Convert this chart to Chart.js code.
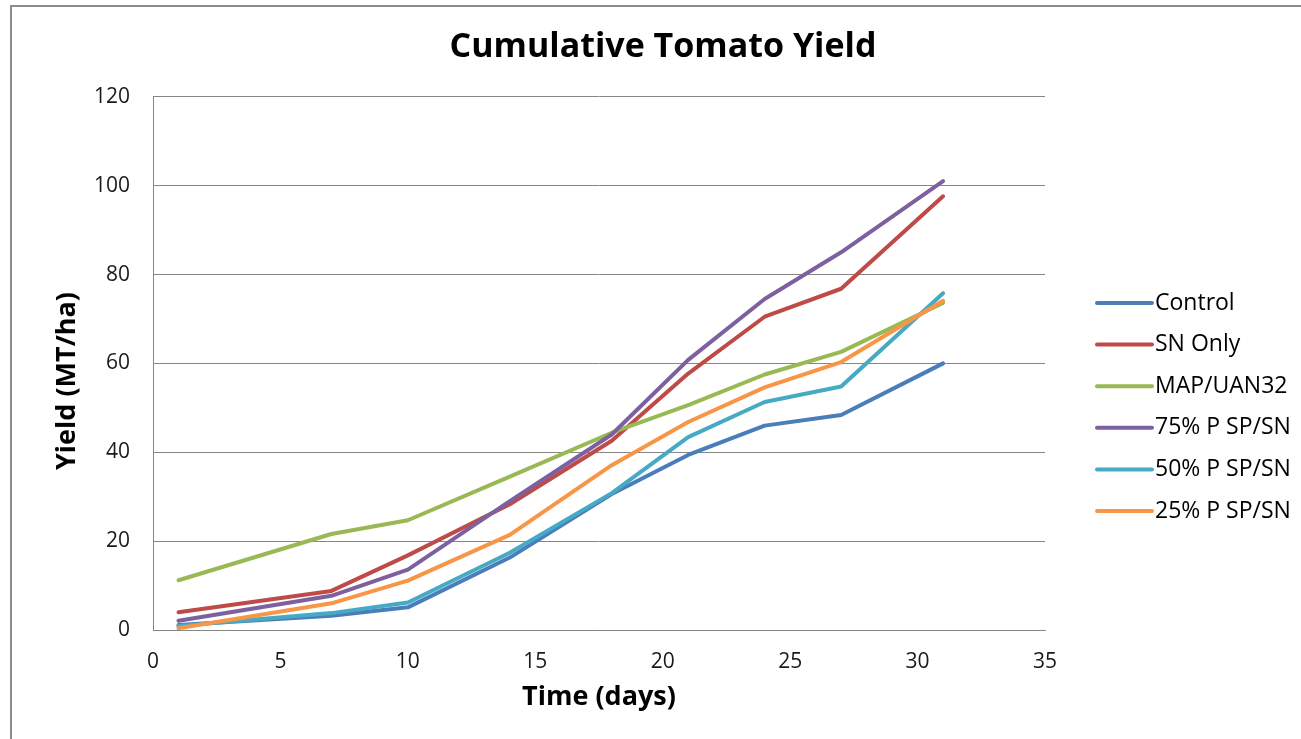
<!DOCTYPE html>
<html>
<head>
<meta charset="utf-8">
<title>Cumulative Tomato Yield</title>
<script src="https://cdn.jsdelivr.net/npm/chart.js@4/dist/chart.umd.min.js"></script>
<style>
  html, body { margin: 0; padding: 0; background: #ffffff; overflow: hidden; }
  #wrap { position: relative; width: 1301px; height: 739px; }
  #frame {
    position: absolute; left: 10px; top: 5px; width: 1400px; height: 800px;
    border-top: 2px solid #8c8c8c; border-left: 2px solid #8c8c8c;
    pointer-events: none;
  }
  canvas { position: absolute; left: 0; top: 0; }
</style>
</head>
<body>
<div id="wrap">
  <canvas id="chart" width="1301" height="739"></canvas>
  <div id="frame"></div>
</div>
<script>
// Harvest days
const days = [1, 7, 10, 14, 18, 21, 24, 27, 31];

// Cumulative yield (MT/ha) per treatment
const control   = [1.1, 3.2, 5.1, 16.3, 30.6, 39.4, 46.0, 48.4, 60.0];
const snOnly    = [4.0, 8.8, 16.8, 28.3, 42.6, 57.7, 70.5, 76.8, 97.6];
const mapUan32  = [11.2, 21.6, 24.7, 34.5, 44.4, 50.6, 57.5, 62.6, 73.6];
const p75SpSn   = [2.1, 7.7, 13.6, 29.0, 44.0, 60.8, 74.5, 85.0, 101.0];
const p50SpSn   = [0.9, 3.8, 6.2, 17.4, 30.8, 43.4, 51.3, 54.8, 75.8];
const p25SpSn   = [0.4, 6.0, 11.1, 21.4, 37.1, 46.8, 54.6, 60.3, 74.1];

const seriesNames = ['Control', 'SN Only', 'MAP/UAN32', '75% P SP/SN', '50% P SP/SN', '25% P SP/SN'];
const seriesValues = [control, snOnly, mapUan32, p75SpSn, p50SpSn, p25SpSn];
const seriesColors = ['#4A7EBB', '#BE4B48', '#98B954', '#7D60A0', '#46AAC5', '#F79646'];

const yAxisTitle = 'Yield (MT/ha)';

const FONT = "'Open Sans', 'Liberation Sans', sans-serif";

const datasets = seriesNames.map((name, i) => ({
  label: name,
  data: days.map((d, k) => ({ x: d, y: seriesValues[i][k] })),
  borderColor: seriesColors[i],
  backgroundColor: seriesColors[i],
  borderWidth: 4,
  borderJoinStyle: 'round',
  borderCapStyle: 'round',
  pointRadius: 0,
  tension: 0,
  fill: false,
  yAxisID: 'y',
  // first series sits underneath, last series on top
  order: seriesNames.length - i
}));

// Legend at the right of the plot (line sample + label) and the
// rotated value-axis title, both drawn onto the chart canvas
const sideDecor = {
  id: 'sideDecor',
  afterDraw(chart, args, opts) {
    const ctx = chart.ctx;
    ctx.save();
    ctx.font = opts.legendFont;
    ctx.textBaseline = 'middle';
    ctx.textAlign = 'left';
    chart.data.datasets.forEach((ds, i) => {
      const y = opts.legendTop + i * opts.legendStep;
      ctx.strokeStyle = ds.borderColor;
      ctx.lineWidth = 4;
      ctx.lineCap = 'round';
      ctx.beginPath();
      ctx.moveTo(opts.legendLeft, y);
      ctx.lineTo(opts.legendLeft + opts.lineLength, y);
      ctx.stroke();
      ctx.fillStyle = opts.color;
      ctx.fillText(ds.label, opts.legendLeft + opts.lineLength + 3, y);
    });

    ctx.translate(opts.yTitleX, opts.yTitleY);
    ctx.rotate(-Math.PI / 2);
    ctx.font = opts.yTitleFont;
    ctx.textAlign = 'center';
    ctx.fillStyle = opts.color;
    ctx.fillText(yAxisTitle, 0, 0);
    ctx.restore();
  }
};

new Chart(document.getElementById('chart'), {
  type: 'line',
  data: { datasets },
  plugins: [sideDecor],
  options: {
    responsive: false,
    animation: false,
    devicePixelRatio: 1,
    layout: { padding: { left: 25, right: 0, top: 0, bottom: 0 } },
    plugins: {
      legend: { display: false },
      tooltip: { enabled: false },
      title: {
        display: true,
        text: 'Cumulative Tomato Yield',
        color: '#000000',
        font: { family: FONT, size: 34, weight: 'bold', lineHeight: 1.2 },
        padding: { top: 27, bottom: 29 }
      },
      sideDecor: {
        legendLeft: 1097, legendTop: 303, legendStep: 41.6, lineLength: 55,
        legendFont: "23px " + FONT, color: '#000000',
        yTitleX: 67, yTitleY: 381,
        yTitleFont: "bold 27px " + FONT
      }
    },
    scales: {
      x: {
        type: 'linear',
        min: 0, max: 35,
        ticks: { stepSize: 5, padding: 19, color: '#1a1a1a', font: { family: FONT, size: 21 } },
        grid: { display: false, drawTicks: false },
        border: { display: true, color: '#868686', width: 1 },
        title: {
          display: true, text: 'Time (days)', color: '#000000',
          font: { family: FONT, size: 27, weight: 'bold', lineHeight: 1.2 },
          padding: { top: 0, bottom: 25 }
        },
        afterFit(scale) { scale.height = 109; }
      },
      y: {
        type: 'linear',
        position: 'left',
        min: 0, max: 120,
        ticks: { stepSize: 20, padding: 23, color: '#1a1a1a', font: { family: FONT, size: 21 } },
        grid: { display: true, drawTicks: false, color: '#868686', lineWidth: 1 },
        border: { display: true, color: '#868686', width: 1 },
        afterFit(scale) { scale.width = 128; }
      },
      // empty right-hand band that keeps room for the legend
      legendBand: {
        type: 'linear',
        position: 'right',
        display: true,
        min: 0, max: 120,
        ticks: { display: false },
        grid: { display: false, drawTicks: false },
        border: { display: false },
        afterFit(scale) { scale.width = 256; }
      }
    }
  }
});
</script>
</body>
</html>
